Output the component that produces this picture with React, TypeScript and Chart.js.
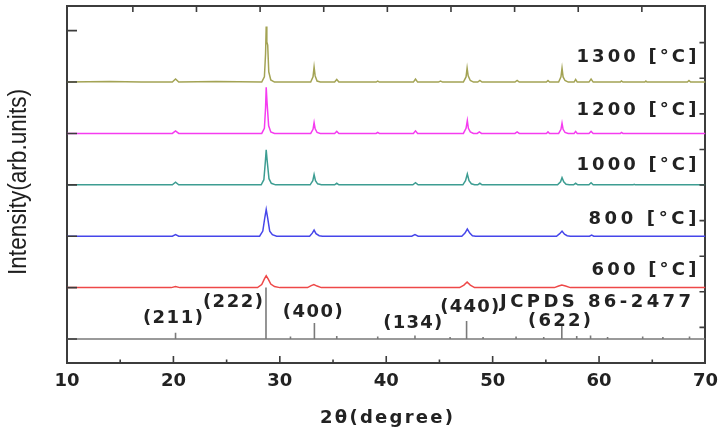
import React, { useEffect, useRef } from "react";
import { Chart, registerables } from "chart.js";

Chart.register(...registerables);

type P = [number, number];

// ---------- data ----------
const X_TITLE = "2θ(degree)";
const Y_TITLE = "Intensity(arb.units)";
const X_MIN = 10;
const X_MAX = 70;
const X_STEP = 5;

const SERIES_NAMES = ["1300 [°C]", "1200 [°C]", "1000 [°C]", "800 [°C]", "600 [°C]"];
const SERIES_OFFSETS = [5, 4, 3, 2, 1];
const SERIES_COLORS = ["#a3a354", "#f53cf0", "#3d9d92", "#4646ea", "#ee4848"];

// relative intensity (arb. units) vs 2θ
const S1300: P[] = [
  [10, 0], [14, 0.01], [17, 0], [19.9, 0], [20.2, 0.06], [20.5, 0], [24, 0.01], [28.3, 0],
  [28.55, 0.1], [28.66, 0.55], [28.72, 1.08], [28.78, 0.78], [28.86, 0.72], [28.96, 0.2], [29.15, 0.04], [29.5, 0],
  [32.9, 0], [33.12, 0.1], [33.22, 0.29], [33.32, 0.12], [33.5, 0.02], [33.8, 0],
  [35.15, 0], [35.35, 0.05], [35.55, 0], [39.05, 0], [39.2, 0.02], [39.35, 0], [42.55, 0], [42.75, 0.06], [42.95, 0],
  [44.9, 0], [45.1, 0.02], [45.3, 0],
  [47.25, 0], [47.5, 0.1], [47.6, 0.27], [47.7, 0.12], [47.9, 0.03], [48.2, 0], [48.6, 0], [48.8, 0.03], [49.0, 0],
  [52.1, 0], [52.3, 0.03], [52.5, 0], [55.05, 0], [55.2, 0.03], [55.35, 0],
  [56.2, 0], [56.42, 0.1], [56.52, 0.27], [56.62, 0.1], [56.8, 0.03], [57.1, 0], [57.65, 0], [57.8, 0.05], [57.95, 0],
  [59.05, 0], [59.25, 0.06], [59.45, 0], [62.0, 0], [62.1, 0.02], [62.25, 0], [64.3, 0], [64.4, 0.02], [64.5, 0],
  [68.3, 0], [68.45, 0.03], [68.6, 0], [70, 0],
];

const S1200: P[] = [
  [10, 0], [19.9, 0], [20.2, 0.05], [20.5, 0], [28.3, 0], [28.55, 0.1], [28.66, 0.5], [28.72, 0.9], [28.8, 0.6],
  [28.95, 0.15], [29.15, 0.03], [29.5, 0],
  [32.9, 0], [33.12, 0.08], [33.22, 0.21], [33.32, 0.09], [33.5, 0.02], [33.8, 0],
  [35.15, 0], [35.35, 0.04], [35.55, 0], [39.05, 0], [39.2, 0.02], [39.35, 0], [42.55, 0], [42.75, 0.05], [42.95, 0],
  [47.25, 0], [47.5, 0.1], [47.62, 0.25], [47.72, 0.1], [47.9, 0.03], [48.2, 0], [48.55, 0], [48.75, 0.03], [48.95, 0],
  [52.1, 0], [52.3, 0.03], [52.5, 0], [55.05, 0], [55.2, 0.03], [55.35, 0],
  [56.2, 0], [56.42, 0.08], [56.52, 0.2], [56.62, 0.08], [56.8, 0.02], [57.1, 0], [57.65, 0], [57.8, 0.04], [57.95, 0],
  [59.05, 0], [59.25, 0.04], [59.45, 0], [62.0, 0], [62.1, 0.02], [62.25, 0], [70, 0],
];

const S1000: P[] = [
  [10, 0], [19.9, 0], [20.2, 0.05], [20.5, 0], [28.25, 0], [28.5, 0.1], [28.64, 0.45], [28.72, 0.68], [28.82, 0.45],
  [28.98, 0.12], [29.2, 0.03], [29.6, 0],
  [32.85, 0], [33.1, 0.08], [33.22, 0.2], [33.35, 0.08], [33.55, 0.02], [33.9, 0],
  [35.15, 0], [35.35, 0.03], [35.55, 0], [42.5, 0], [42.75, 0.04], [43.0, 0],
  [47.2, 0], [47.45, 0.08], [47.62, 0.21], [47.78, 0.08], [48.0, 0.02], [48.3, 0], [48.6, 0], [48.8, 0.03], [49.0, 0],
  [56.1, 0], [56.38, 0.06], [56.52, 0.14], [56.68, 0.06], [56.9, 0.01], [57.2, 0], [57.6, 0], [57.8, 0.03], [58.0, 0],
  [59.05, 0], [59.25, 0.04], [59.45, 0], [63.2, 0], [63.3, 0.01], [63.4, 0], [70, 0],
];

const S800: P[] = [
  [10, 0], [19.9, 0], [20.2, 0.03], [20.5, 0], [28.1, 0], [28.4, 0.1], [28.58, 0.35], [28.72, 0.52], [28.86, 0.35],
  [29.05, 0.1], [29.3, 0.03], [29.7, 0],
  [32.8, 0], [33.05, 0.06], [33.22, 0.12], [33.4, 0.05], [33.7, 0.01], [34.0, 0],
  [42.4, 0], [42.7, 0.03], [43.0, 0],
  [47.1, 0], [47.4, 0.06], [47.62, 0.14], [47.85, 0.06], [48.1, 0.01], [48.4, 0],
  [56.0, 0], [56.3, 0.05], [56.52, 0.1], [56.75, 0.04], [57.0, 0.01], [57.3, 0], [59.1, 0], [59.3, 0.02], [59.5, 0], [70, 0],
];

const S600: P[] = [
  [10, 0], [19.8, 0], [20.2, 0.02], [20.6, 0], [27.9, 0], [28.3, 0.06], [28.55, 0.17], [28.72, 0.23], [28.9, 0.17],
  [29.15, 0.07], [29.5, 0.02], [30.0, 0],
  [32.6, 0], [32.95, 0.04], [33.2, 0.06], [33.5, 0.03], [33.9, 0],
  [46.9, 0], [47.3, 0.05], [47.6, 0.11], [47.9, 0.05], [48.3, 0],
  [55.8, 0], [56.2, 0.03], [56.5, 0.05], [56.85, 0.03], [57.3, 0], [70, 0],
];

const SERIES: P[][] = [S1300, S1200, S1000, S800, S600];

const REF_NAME = "JCPDS 86-2477";
const REF_POS = [20.2, 28.7, 31.0, 33.25, 35.35, 39.2, 42.7, 46.0, 47.55, 49.1, 52.2, 54.8, 56.5, 57.9, 59.2, 60.8, 64.1, 66.0, 68.5];
const REF_INT = [0.12, 1.0, 0.05, 0.31, 0.06, 0.05, 0.07, 0.04, 0.35, 0.04, 0.05, 0.04, 0.27, 0.06, 0.07, 0.04, 0.05, 0.04, 0.05];
const HKL_LABELS = ["(211)", "(222)", "(400)", "(134)", "(440)", "(622)"];

// ---------- annotation placement (data coords) ----------
const TEMP_LABEL_X = 69.15;
const TEMP_LABEL_Y = [5.48, 4.45, 3.38, 2.32, 1.34];
const TEMP_LABEL_W = [120, 120, 120, 108, 105];
const HKL_X = [19.95, 25.59, 33.1, 42.49, 47.84, 56.29];
const HKL_Y = [0.41, 0.72, 0.51, 0.31, 0.62, 0.35];
const HKL_W = [60, 60, 60, 59, 59, 63];
const REF_LABEL_X = 59.67;
const REF_LABEL_Y = 0.72;
const REF_LABEL_W = 191;

const TEXT_COLOR = "#222222";
const FRAME_COLOR = "#3c3c3c";
const BOLD = (s: number) => `bold ${s}px "DejaVu Sans"`;

function spacedText(ctx: any, text: string, x: number, y: number, font: string, width: number, align: string) {
  ctx.font = font;
  ctx.letterSpacing = "0px";
  const w0 = ctx.measureText(text).width;
  const n = Array.from(text).length;
  const ls = n > 1 ? (width - w0) / (n - 1) : 0;
  ctx.letterSpacing = `${ls}px`;
  const left = align === "center" ? x - width / 2 : align === "right" ? x - width : x;
  ctx.textAlign = "left";
  ctx.textBaseline = "middle";
  ctx.fillText(text, left, y);
  ctx.letterSpacing = "0px";
}

const decor = {
  id: "decor",
  afterDraw(chart: any) {
    const { ctx, chartArea: a, scales } = chart;
    const { x, x2, y, y2 } = scales;
    ctx.save();
    // inward tick marks
    ctx.strokeStyle = FRAME_COLOR;
    ctx.lineWidth = 1.6;
    ctx.beginPath();
    for (const t of x.ticks) {
      if (t.value <= X_MIN || t.value >= X_MAX) continue;
      const px = x.getPixelForValue(t.value);
      const len = t.value % 10 === 0 ? 7 : 3.5;
      ctx.moveTo(px, a.bottom);
      ctx.lineTo(px, a.bottom - len);
    }
    for (const t of x2.ticks) {
      if (!Number.isInteger(t.value) || t.value <= 0 || t.value >= 10) continue;
      const px = x2.getPixelForValue(t.value);
      ctx.moveTo(px, a.top);
      ctx.lineTo(px, a.top + 6);
    }
    for (const t of y.ticks) {
      if (!Number.isInteger(t.value)) continue;
      const py = y.getPixelForValue(t.value);
      ctx.moveTo(a.left, py);
      ctx.lineTo(a.left + 10, py);
    }
    for (const t of y2.ticks) {
      if (!Number.isInteger(t.value) || t.value <= 0 || t.value >= 10) continue;
      const py = y2.getPixelForValue(t.value);
      ctx.moveTo(a.right, py);
      ctx.lineTo(a.right - 6, py);
    }
    ctx.stroke();

    ctx.fillStyle = TEXT_COLOR;
    // temperature labels
    SERIES_NAMES.forEach((name, i) => {
      spacedText(ctx, name, x.getPixelForValue(TEMP_LABEL_X), y.getPixelForValue(TEMP_LABEL_Y[i]), BOLD(18), TEMP_LABEL_W[i], "right");
    });
    // hkl labels
    HKL_LABELS.forEach((lab, i) => {
      spacedText(ctx, lab, x.getPixelForValue(HKL_X[i]), y.getPixelForValue(HKL_Y[i]), BOLD(18), HKL_W[i], "center");
    });
    spacedText(ctx, REF_NAME, x.getPixelForValue(REF_LABEL_X), y.getPixelForValue(REF_LABEL_Y), BOLD(18), REF_LABEL_W, "center");

    // x-axis title
    spacedText(ctx, X_TITLE, 386.5, 418, BOLD(18), 133, "center");

    // y-axis title (rotated, condensed)
    ctx.font = '25px "Liberation Sans"';
    ctx.letterSpacing = "0px";
    const w = ctx.measureText(Y_TITLE).width;
    ctx.translate(19, 182);
    ctx.rotate(-Math.PI / 2);
    ctx.scale(186 / w, 1);
    ctx.textAlign = "center";
    ctx.textBaseline = "middle";
    ctx.fillStyle = "#1e1e1e";
    ctx.fillText(Y_TITLE, 0, 0);
    ctx.restore();
  },
};

export default function App() {
  const ref = useRef<HTMLCanvasElement>(null);
  useEffect(() => {
    const canvas = ref.current!;
    const datasets: any[] = SERIES.map((pts, i) => ({
      label: SERIES_NAMES[i],
      data: pts.map(([px, py]) => ({ x: px, y: py + SERIES_OFFSETS[i] })),
      borderColor: SERIES_COLORS[i],
      borderWidth: 1.5,
      pointRadius: 0,
      fill: false,
      tension: 0,
      xAxisID: "x",
      yAxisID: "y",
    }));
    const refData: { x: number; y: number }[] = [{ x: X_MIN, y: 0 }];
    REF_POS.forEach((p, i) => {
      refData.push({ x: p, y: 0 }, { x: p, y: REF_INT[i] }, { x: p, y: 0 });
    });
    refData.push({ x: X_MAX, y: 0 });
    datasets.push({
      label: REF_NAME,
      data: refData,
      borderColor: "#7a7a7a",
      borderWidth: 1.6,
      pointRadius: 0,
      fill: false,
      tension: 0,
      xAxisID: "x",
      yAxisID: "y",
    });

    const border = { display: true, color: FRAME_COLOR, width: 2 };
    const chart = new Chart(canvas, {
      type: "line",
      data: { datasets },
      options: {
        animation: false,
        responsive: false,
        devicePixelRatio: 1,
        events: [],
        layout: { padding: 0 },
        plugins: { legend: { display: false }, tooltip: { enabled: false } },
        scales: {
          x: {
            type: "linear",
            position: "bottom",
            min: X_MIN,
            max: X_MAX,
            ticks: {
              stepSize: X_STEP,
              autoSkip: false,
              maxRotation: 0,
              callback: (v: any) => (Number(v) % 10 === 0 ? String(v) : ""),
              font: { family: "DejaVu Sans", size: 18, weight: "bold" },
              color: TEXT_COLOR,
              padding: 8,
            },
            grid: { display: false, drawTicks: false },
            border,
            afterFit: (s: any) => {
              s.height = 64;
            },
          },
          x2: {
            type: "linear",
            position: "top",
            min: -0.035,
            max: 10.0,
            ticks: { stepSize: 1, display: false },
            grid: { display: false, drawTicks: false },
            border,
            afterFit: (s: any) => {
              s.height = 6;
            },
          },
          y: {
            type: "linear",
            position: "left",
            min: -0.467,
            max: 6.48,
            ticks: { stepSize: 1, display: false },
            grid: { display: false, drawTicks: false },
            border,
            afterFit: (s: any) => {
              s.width = 67;
            },
          },
          y2: {
            type: "linear",
            position: "right",
            min: 0,
            max: 10.03,
            ticks: { stepSize: 1, display: false },
            grid: { display: false, drawTicks: false },
            border,
            afterFit: (s: any) => {
              s.width = 20;
            },
          },
        },
      } as any,
      plugins: [decor],
    });
    return () => chart.destroy();
  }, []);

  return (
    <div style={{ position: "fixed", left: 0, top: 0, width: 726, height: 427, background: "#ffffff" }}>
      <canvas ref={ref} width={726} height={427} style={{ display: "block", width: 726, height: 427 }} />
    </div>
  );
}
